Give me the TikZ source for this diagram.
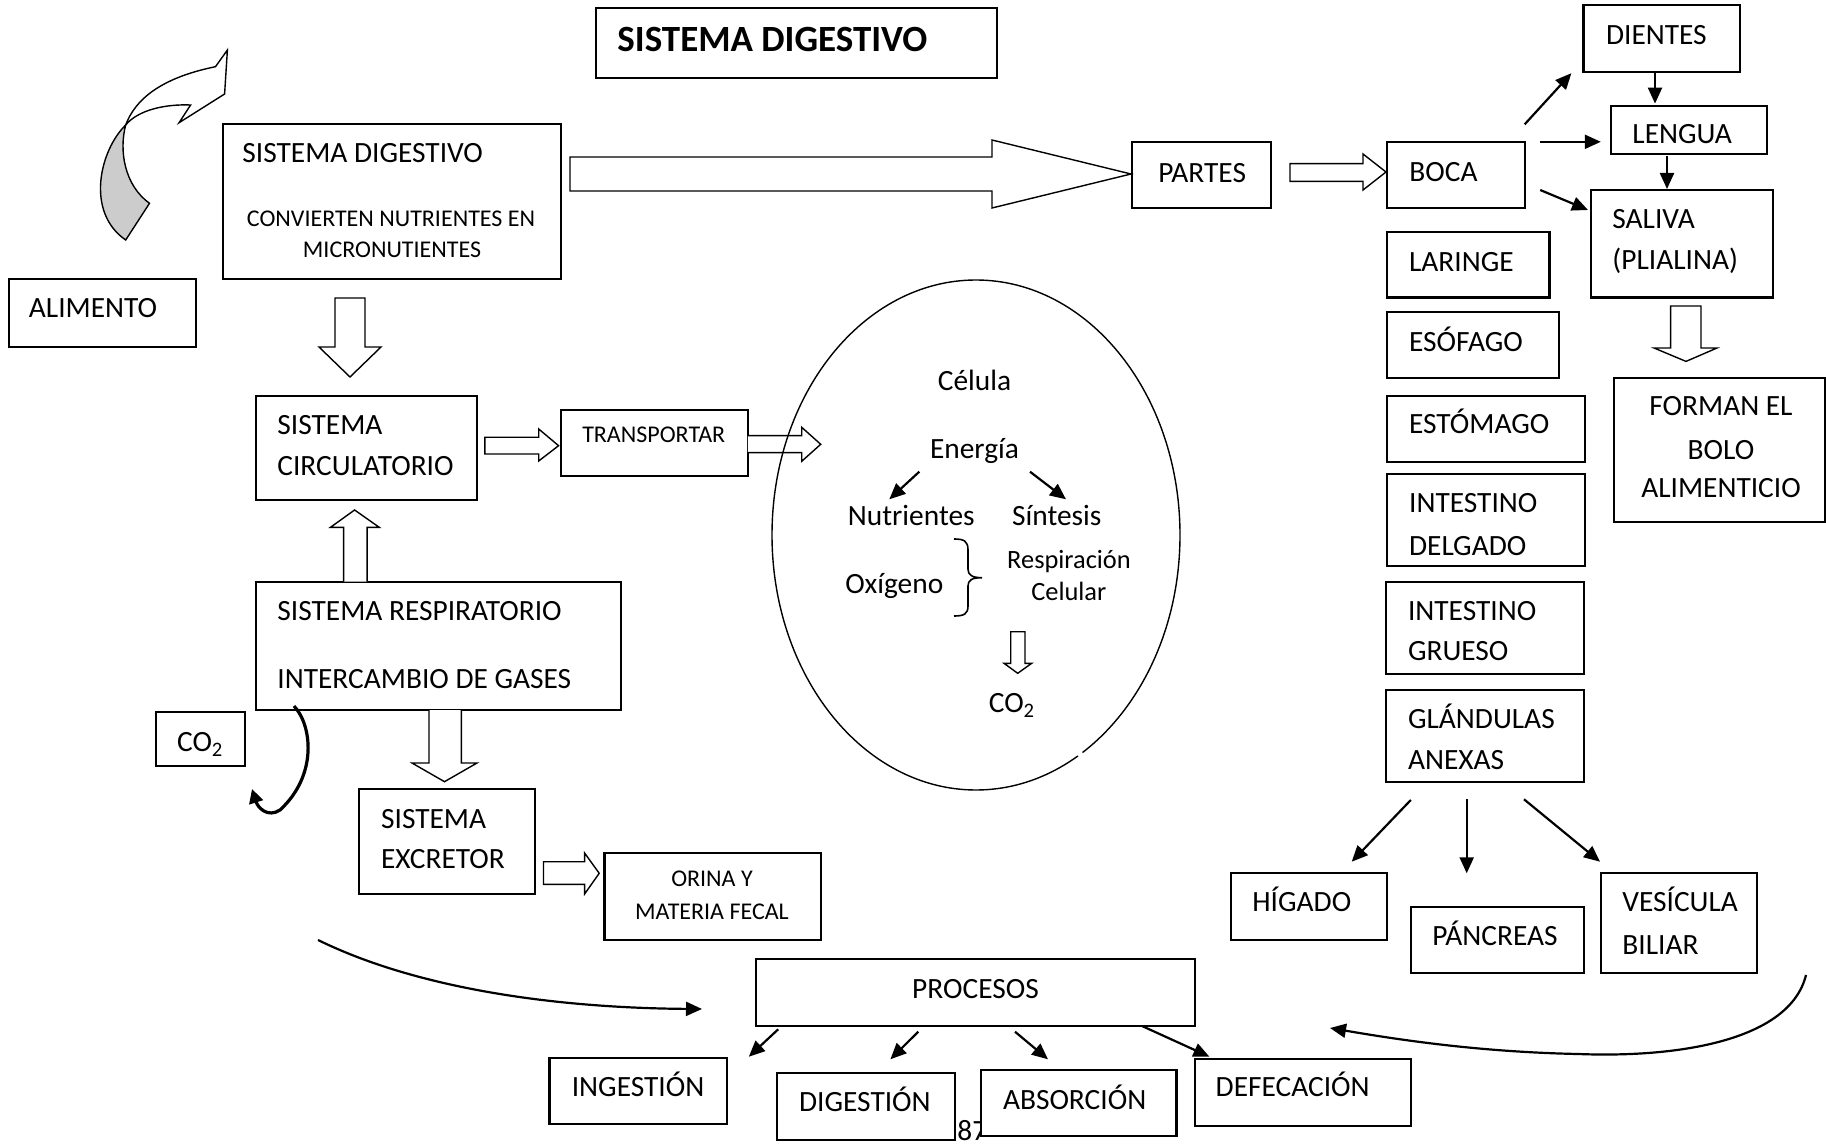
\documentclass[tikz,border=0pt]{standalone}
\usepackage{fontspec}
\setmainfont{Carlito}
\usetikzlibrary{arrows.meta,fit,shapes.geometric}

\begin{document}
\begin{tikzpicture}[x=0.5pt,y=-0.5pt,
  box/.style={draw,line width=1.1pt,inner sep=0pt,fill=white},
  txt/.style={inner sep=0pt,anchor=base west,font=\fontsize{14.7}{17}\selectfont},
  ctxt/.style={inner sep=0pt,anchor=base,font=\fontsize{14.7}{17}\selectfont},
  stxt/.style={inner sep=0pt,anchor=base,font=\fontsize{12}{14}\selectfont},
  rtxt/.style={inner sep=0pt,anchor=base,font=\fontsize{13.2}{15}\selectfont},
  blk/.style={draw,line width=0.7pt,fill=white,line join=miter},
  arr/.style={line width=1.1pt,-{Triangle[length=8pt,width=7pt]}},
  curv/.style={line width=1.1pt,-{Triangle[length=8pt,width=7pt]}},
  ]
\useasboundingbox[fill=white] (0,0) rectangle (1826,1144);

% ---------- curved decorative arrow (top left) ----------
\draw[line width=0.7pt,fill=white] (125.7,125) .. controls (135,100) and (160,78) .. (215.5,66.7)
  -- (227.4,50) -- (224.6,94) -- (179.1,122.7) -- (190.6,105)
  .. controls (165,104) and (138,110) .. (125.7,125) -- cycle;
\draw[line width=0.7pt,fill=black!20] (125.7,125) .. controls (100,150) and (85,212) .. (125.7,240)
  -- (149.5,203.3) .. controls (124,185) and (119,150) .. (125.7,125) -- cycle;

% ---------- boxes ----------
\node[box,fit={(596,8) (997,78)}] (title) {};
\node[txt,font=\fontsize{18.5}{21}\selectfont\bfseries] (ttitle) at (617,52) {SISTEMA DIGESTIVO};

\node[box,fit={(9,279) (196,347)}] (alimento) {};
\node[txt] (talimento) at (28.5,318) {ALIMENTO};

\node[box,fit={(223,124) (561,279)}] (sdig) {};
\node[txt] (tsdig) at (242,163) {SISTEMA DIGESTIVO};
\node[stxt] (tconv) at (391,227) {CONVIERTEN NUTRIENTES EN};
\node[stxt] (tmicro) at (392,258) {MICRONUTIENTES};

\node[box,fit={(1132,142) (1271,208)}] (partes) {};
\node[txt] (tpartes) at (1158,183) {PARTES};

\node[box,fit={(1387,142) (1525,208)}] (boca) {};
\node[txt] (tboca) at (1409,182) {BOCA};

\node[box,fit={(1583.5,5.4) (1740.3,72)}] (dientes) {};
\node[txt] (tdientes) at (1605.6,44.6) {DIENTES};

\node[box,fit={(1610.7,106) (1767.2,154.3)}] (lengua) {};
\node[txt] (tlengua) at (1632,143.6) {LENGUA};

\node[box,fit={(1591,190) (1772.7,297.5)}] (saliva) {};
\node[txt] (tsaliva1) at (1612,229) {SALIVA};
\node[txt] (tsaliva2) at (1612,270) {(PLIALINA)};

\node[box,fit={(1386.6,232) (1549.4,297.5)}] (laringe) {};
\node[txt] (tlaringe) at (1408.7,272) {LARINGE};

\node[box,fit={(1386.6,311.8) (1559.3,377.8)}] (esofago) {};
\node[txt] (tesofago) at (1408.7,352) {ESÓFAGO};

\node[box,fit={(1386.6,395.7) (1585,461.7)}] (estomago) {};
\node[txt] (testomago) at (1408.7,434) {ESTÓMAGO};

\node[box,fit={(1386.6,474.2) (1585,566)}] (idelg) {};
\node[txt] (tidelg1) at (1408.7,512.5) {INTESTINO};
\node[txt] (tidelg2) at (1408.7,555) {DELGADO};

\node[box,fit={(1385.6,581.7) (1584,674)}] (igrue) {};
\node[txt] (tigrue1) at (1407.6,620) {INTESTINO};
\node[txt] (tigrue2) at (1407.6,660.7) {GRUESO};

\node[box,fit={(1385.6,690) (1584,781.7)}] (glan) {};
\node[txt] (tglan1) at (1407.6,728) {GLÁNDULAS};
\node[txt] (tglan2) at (1407.6,769) {ANEXAS};

\node[box,fit={(1613.6,377.8) (1824.8,522)}] (forman) {};
\node[ctxt] (tforman1) at (1721,416) {FORMAN EL};
\node[ctxt] (tforman2) at (1721,459) {BOLO};
\node[ctxt] (tforman3) at (1721,498) {ALIMENTICIO};

\node[box,fit={(1230.7,873.3) (1386.8,940)}] (higado) {};
\node[txt] (thigado) at (1252,911.7) {HÍGADO};

\node[box,fit={(1410.8,906.7) (1584,973.3)}] (pancreas) {};
\node[txt] (tpancreas) at (1432,945) {PÁNCREAS};

\node[box,fit={(1600.8,873.3) (1756.9,973.3)}] (vesicula) {};
\node[txt] (tvesicula1) at (1622,911.7) {VESÍCULA};
\node[txt] (tvesicula2) at (1622,954) {BILIAR};

\node[box,fit={(256.3,395.7) (477,500)}] (circ) {};
\node[txt] (tcirc1) at (277,435) {SISTEMA};
\node[txt] (tcirc2) at (277,475) {CIRCULATORIO};

\node[box,fit={(560.7,410) (747.9,476)}] (transp) {};
\node[stxt] (ttransp) at (653.75,442.7) {TRANSPORTAR};

\node[box,fit={(256.3,581.7) (621.3,710)}] (resp) {};
\node[txt] (tresp1) at (277,620) {SISTEMA RESPIRATORIO};
\node[txt] (tresp2) at (277,688) {INTERCAMBIO DE GASES};

\node[box,fit={(155.7,711.7) (245,766)}] (co2) {};
\node[txt] (tco2) at (176.7,751.7) {CO\textsubscript{2}};

\node[box,fit={(358.7,789.3) (534.7,894)}] (excr) {};
\node[txt] (texcr1) at (380.7,828) {SISTEMA};
\node[txt] (texcr2) at (380.7,868) {EXCRETOR};

\node[box,fit={(604.4,852.7) (820.7,940)}] (orina) {};
\node[stxt] (torina1) at (712,886.7) {ORINA Y};
\node[stxt] (torina2) at (712,919.3) {MATERIA FECAL};

\node[box,fit={(756.2,959.3) (1194.7,1026)}] (procesos) {};
\node[ctxt] (tprocesos) at (975.5,998) {PROCESOS};

\node[box,fit={(549.4,1057.7) (726.8,1124)}] (ingestion) {};
\node[txt] (tingestion) at (571.4,1096) {INGESTIÓN};

\node[box,fit={(776.7,1073.3) (954.9,1140)}] (digestion) {};
\node[txt] (tdigestion) at (798.7,1111.7) {DIGESTIÓN};

\node[txt] (pagenum) at (957,1140) {87};

\node[box,fit={(980.6,1070) (1176.4,1136)}] (absorcion) {};
\node[txt] (tabsorcion) at (1002.6,1109) {ABSORCIÓN};

\node[box,fit={(1194.7,1059.3) (1411,1126)}] (defecacion) {};
\node[txt] (tdefecacion) at (1215.3,1096.7) {DEFECACIÓN};

% ---------- hollow block arrows ----------
\draw[blk] (570,157) -- (992,157) -- (992,140) -- (1131,174) -- (992,208) -- (992,191) -- (570,191) -- cycle;
\draw[blk] (1290,163.6) -- (1363,163.6) -- (1363,154) -- (1386,172) -- (1363,190) -- (1363,181.4) -- (1290,181.4) -- cycle;
\draw[blk] (335,298) -- (365,298) -- (365,347) -- (381,347) -- (350,377) -- (319,347) -- (335,347) -- cycle;
\draw[blk] (343.6,581.7) -- (343.6,527.3) -- (330.5,527.3) -- (354.6,510) -- (379.2,527.3) -- (367.1,527.3) -- (367.1,581.7);
\draw[blk] (484.8,437.3) -- (538.7,437.3) -- (538.7,429) -- (558.6,445.7) -- (538.7,461) -- (538.7,454) -- (484.8,454) -- cycle;
\draw[blk] (747.9,435.7) -- (801.7,435.7) -- (801.7,427.3) -- (820.7,444.3) -- (801.7,461.3) -- (801.7,452.7) -- (747.9,452.7);
\draw[blk] (429,710) -- (429,763) -- (412,763) -- (444.5,781.7) -- (477,763) -- (461.3,763) -- (461.3,710);
\draw[blk] (543.5,861.7) -- (584.6,861.7) -- (584.6,853) -- (599.2,873.3) -- (584.6,894) -- (584.6,884.3) -- (543.5,884.3) -- cycle;
\draw[blk] (1670.6,306) -- (1701,306) -- (1701,348) -- (1717,348) -- (1686,361.4) -- (1654,348) -- (1670.6,348) -- cycle;

% ---------- cell ----------
\node[ellipse,draw,line width=0.7pt,minimum width=204pt,minimum height=255pt,inner sep=0pt] (cell) at (976,535) {};
\fill[white] (1080,754) circle[radius=3];
\node[ctxt] (tcelula) at (974.5,390.7) {Célula};
\node[ctxt] (tenergia) at (974.5,458.3) {Energía};
\node[ctxt] (tnutri) at (911.3,525) {Nutrientes};
\node[ctxt] (tsintesis) at (1056.8,525) {Síntesis};
\node[ctxt] (toxigeno) at (894.3,593.3) {Oxígeno};
\node[rtxt] (tresp3) at (1069,568.3) {Respiración};
\node[rtxt] (tcelular) at (1068.8,600) {Celular};
\node[ctxt] (tco2b) at (1012,712.7) {CO\textsubscript{2}};
\draw[line width=0.8pt] (954,539) .. controls (964,539) and (968,541) .. (968,550) -- (968,569)
  .. controls (968,575) and (972,577.7) .. (982,577.7)
  .. controls (972,577.7) and (968,580) .. (968,586) -- (968,606)
  .. controls (968,614) and (964,616) .. (954,616);
\draw[blk] (1010.7,631.7) -- (1025,631.7) -- (1025,663.3) -- (1031.7,663.3) -- (1017.7,673.3) -- (1004,663.3) -- (1010.7,663.3) -- cycle;

% ---------- thin arrows ----------
\coordinate (en1) at (919.3,471.7); \coordinate (en2) at (889.3,499.3);
\coordinate (es1) at (1030,471.7);  \coordinate (es2) at (1066,499.3);
\draw[arr] (en1) -- (en2);
\draw[arr] (es1) -- (es2);

\coordinate (bd1) at (1524.7,124.3); \coordinate (bd2) at (1571.4,73.2);
\coordinate (bl1) at (1540.2,141.8); \coordinate (bl2) at (1600.8,141.8);
\coordinate (bs1) at (1540.2,190);   \coordinate (bs2) at (1588,210);
\coordinate (dl1) at (1655,72);      \coordinate (dl2) at (1655,103.6);
\coordinate (ls1) at (1667,156);     \coordinate (ls2) at (1667,189);
\draw[arr] (bd1) -- (bd2);
\draw[arr] (bl1) -- (bl2);
\draw[arr] (bs1) -- (bs2);
\draw[arr] (dl1) -- (dl2);
\draw[arr] (ls1) -- (ls2);

\coordinate (gh1) at (1410.8,800);   \coordinate (gh2) at (1351.7,861.7);
\coordinate (gp1) at (1466.7,799.3); \coordinate (gp2) at (1466.7,873.3);
\coordinate (gv1) at (1524,799.3);   \coordinate (gv2) at (1600,861.7);
\draw[arr] (gh1) -- (gh2);
\draw[arr] (gp1) -- (gp2);
\draw[arr] (gv1) -- (gv2);

\coordinate (pi1) at (778.2,1029.3);  \coordinate (pi2) at (748.8,1056.7);
\coordinate (pd1) at (918.3,1031.7);  \coordinate (pd2) at (890.4,1059.3);
\coordinate (pa1) at (1015,1031.7);   \coordinate (pa2) at (1048,1059.3);
\coordinate (pf1) at (1142,1026);     \coordinate (pf2) at (1209.4,1056.7);
\draw[arr] (pi1) -- (pi2);
\draw[arr] (pd1) -- (pd2);
\draw[arr] (pa1) -- (pa2);
\draw[arr] (pf1) -- (pf2);

% ---------- curved arrows ----------
\coordinate (c1) at (294,706); \coordinate (c2) at (252,789);
\draw[line width=1.6pt,-{Triangle[length=7pt,width=7pt]}] (c1) .. controls (312,725) and (318,775) .. (280,810)
  .. controls (268,818) and (258,808) .. (c2);

\coordinate (lc1) at (318,940); \coordinate (lc2) at (702,1009);
\draw[curv] (lc1) .. controls (420,990) and (560,1008) .. (lc2);

\coordinate (rc1) at (1806,975); \coordinate (rc2) at (1330,1028);
\draw[curv] (rc1) .. controls (1790,1040) and (1680,1058) .. (1578,1054)
  .. controls (1480,1052) and (1400,1040) .. (rc2);
\end{tikzpicture}
\end{document}
